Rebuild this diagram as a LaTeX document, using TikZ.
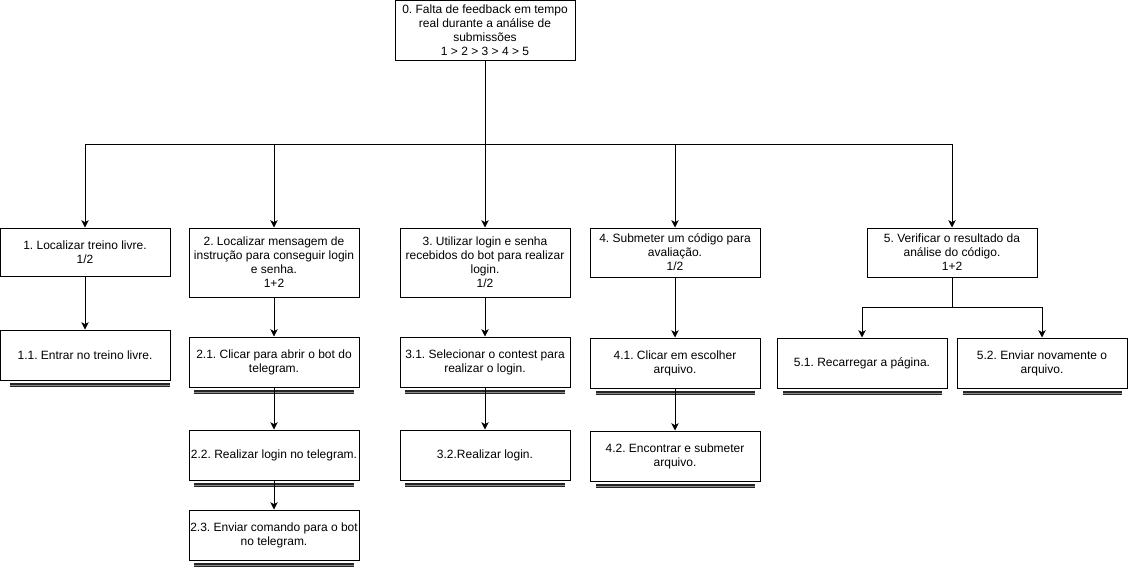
\documentclass[tikz,border=0pt]{standalone}
\usepackage{fontspec}
\setmainfont{Liberation Sans}
\usetikzlibrary{arrows.meta}
\frenchspacing
\begin{document}
\begin{tikzpicture}[x=0.75pt,y=-0.75pt,
  box/.style={draw=black,line width=0.75pt,fill=white,rectangle,inner sep=0pt,
    minimum width=127.5pt,align=center,
    font=\fontsize{9}{10.5}\selectfont},
  arr/.style={draw=black,line width=0.75pt,-{Stealth[length=5.5pt,width=5.5pt,inset=1.5pt]}},
  ln/.style={draw=black,line width=0.75pt},
  dbl/.style={draw=black!85,line width=0.9pt,double=black!45,double distance=0.7pt}]
\useasboundingbox (0,0) rectangle (1128,572);

\node[box,minimum width=135pt,minimum height=45pt] (root) at (485,30)
  {0. Falta de feedback em tempo\\real durante a análise de\\submissões\\1 > 2 > 3 > 4 > 5};

\node[box,minimum height=36pt] (b1) at (85,252) {1. Localizar treino livre.\\1/2};
\node[box,minimum height=51.75pt] (b2) at (274,262.5) {2. Localizar mensagem de\\instrução para conseguir login\\e senha.\\1+2};
\node[box,minimum height=51.75pt] (b3) at (485,262.5) {3. Utilizar login e senha\\recebidos do bot para realizar\\login.\\1/2};
\node[box,minimum height=36.75pt] (b4) at (675,252.5) {4. Submeter um código para\\avaliação.\\1/2};
\node[box,minimum height=36.75pt] (b5) at (952,252.5) {5. Verificar o resultado da\\análise do código.\\1+2};

\node[box,minimum height=37.5pt] (b11) at (85,355) {1.1. Entrar no treino livre.};
\node[box,minimum height=37.5pt] (b21) at (274,362) {2.1. Clicar para abrir o bot do\\telegram.};
\node[box,minimum height=37.5pt] (b22) at (274,455) {2.2. Realizar login no telegram.};
\node[box,minimum height=37.5pt] (b23) at (274,535) {2.3. Enviar comando para o bot\\no telegram.};
\node[box,minimum height=37.5pt] (b31) at (485,362) {3.1. Selecionar o contest para\\realizar o login.};
\node[box,minimum height=37.5pt] (b32) at (485,455) {3.2.Realizar login.};
\node[box,minimum height=37.5pt] (b41) at (675,363) {4.1. Clicar em escolher\\arquivo.};
\node[box,minimum height=37.5pt] (b42) at (675,456) {4.2. Encontrar e submeter\\arquivo.};
\node[box,minimum height=37.5pt] (b51) at (862,363) {5.1. Recarregar a página.};
\node[box,minimum height=37.5pt] (b52) at (1042,363) {5.2. Enviar novamente o\\arquivo.};

% underlines of leaves
\draw[dbl] (10,385) -- (170,385);
\draw[dbl] (194,392) -- (354,392);
\draw[dbl] (194,485) -- (354,485);
\draw[dbl] (194,565) -- (354,565);
\draw[dbl] (405,392) -- (565,392);
\draw[dbl] (405,485) -- (565,485);
\draw[dbl] (596,393) -- (755,393);
\draw[dbl] (596,486) -- (755,486);
\draw[dbl] (783,393) -- (942,393);
\draw[dbl] (963,393) -- (1122,393);

% connectors
\coordinate (bus) at (485,144);
\coordinate (bus5) at (952,307);
\draw[ln] (root.south) -- (bus);
\draw[arr] (bus) -| (b1.north);
\draw[arr] (bus) -| (b2.north);
\draw[arr] (bus) -- (b3.north);
\draw[arr] (bus) -| (b4.north);
\draw[arr] (bus) -| (b5.north);

\draw[arr] (b1.south) -- (b11.north);
\draw[arr] (b2.south) -- (b21.north);
\draw[arr] (b21.south) -- (b22.north);
\draw[arr] (b22.south) -- (b23.north);
\draw[arr] (b3.south) -- (b31.north);
\draw[arr] (b31.south) -- (b32.north);
\draw[arr] (b4.south) -- (b41.north);
\draw[arr] (b41.south) -- (b42.north);
\draw[ln] (b5.south) -- (bus5);
\draw[arr] (bus5) -| (b51.north);
\draw[arr] (bus5) -| (b52.north);
\end{tikzpicture}
\end{document}
